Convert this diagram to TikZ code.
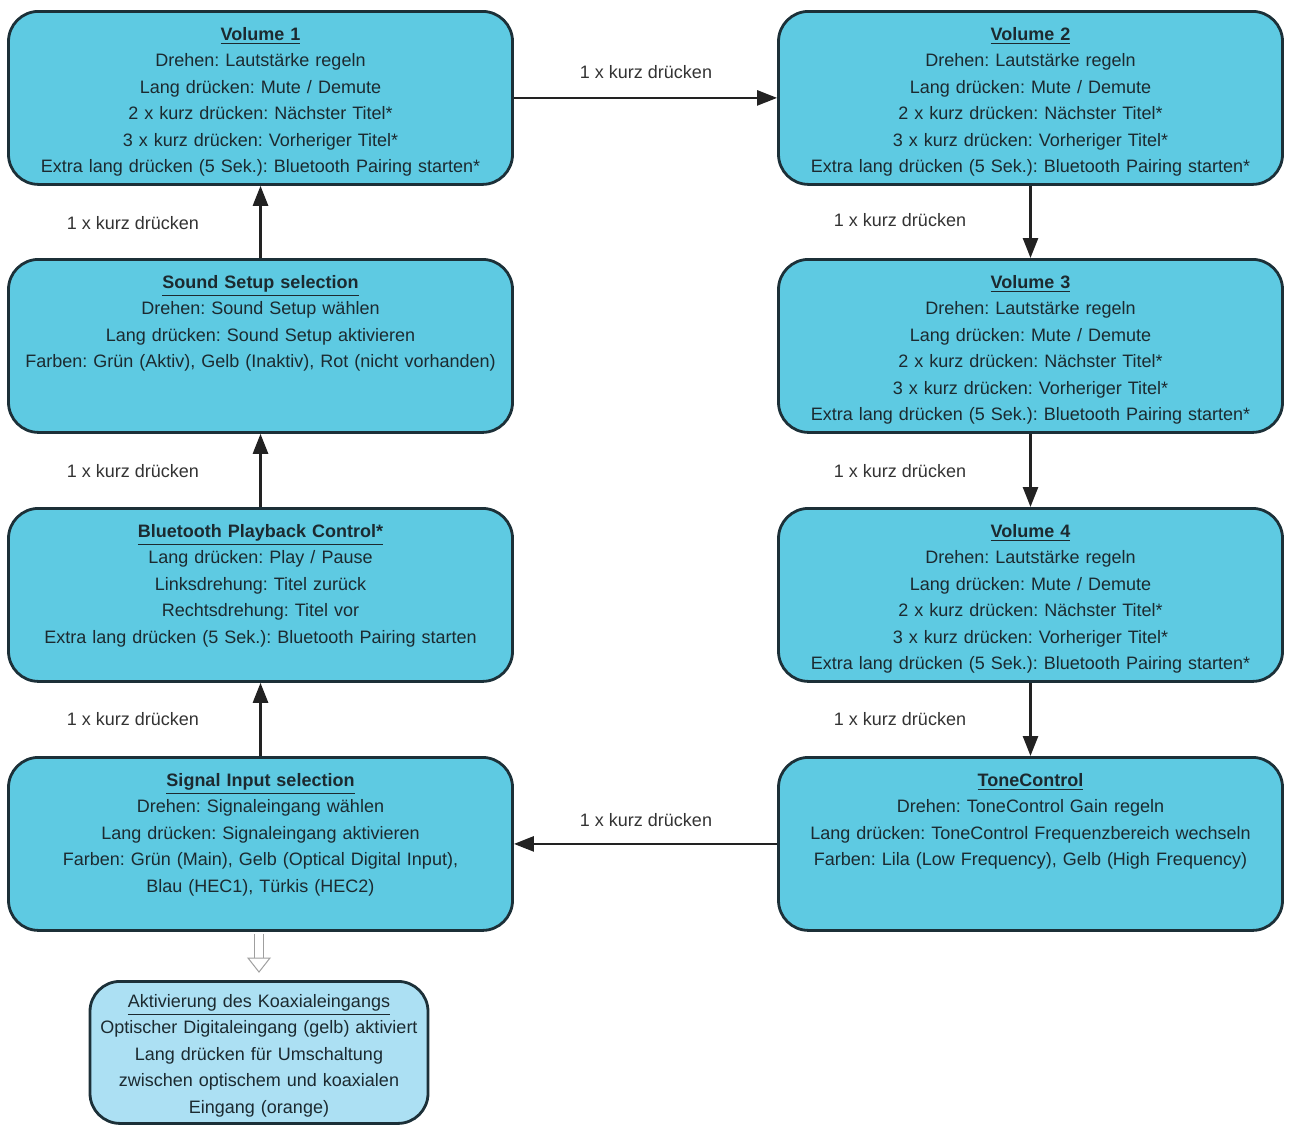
\documentclass[tikz,border=0pt]{standalone}
\usepackage{fontspec}
\setmainfont{Liberation Sans}
\usetikzlibrary{arrows.meta}

\definecolor{boxfill}{RGB}{94,202,226}
\definecolor{boxline}{RGB}{28,48,56}
\definecolor{koaxfill}{RGB}{172,224,243}
\definecolor{boxtext}{RGB}{28,42,48}
\definecolor{arrowgray}{RGB}{34,34,34}

\frenchspacing
\newcommand{\boxtitle}[1]{\underline{\textbf{#1}}}
\newcommand{\voltext}[1]{\boxtitle{Volume #1}\\
	Drehen: Lautstärke regeln\\
	Lang drücken: Mute / Demute\\
	2 x kurz drücken: Nächster Titel*\\
	3 x kurz drücken: Vorheriger Titel*\\
	Extra lang drücken (5 Sek.): Bluetooth Pairing starten*}

\begin{document}
\begin{tikzpicture}[x=0.5pt, y=-0.5pt,
		menubox/.style={draw=boxline, line width=1.4pt, fill=boxfill, rounded corners=15pt, anchor=north,
			text width=246pt, inner xsep=3pt, inner ysep=4pt, text height=10.5pt, text depth=68pt,
			align=center, text=boxtext, font=\fontsize{9}{13.2}\selectfont},
		koaxbox/.style={menubox, fill=koaxfill, text width=169pt, inner xsep=0pt, text height=10pt, text depth=55pt,
			inner ysep=3pt, font=\fontsize{9}{13.25}\selectfont},
		flow/.style={draw=arrowgray, line width=1.3pt, -{Triangle[length=10pt, width=7.5pt]}},
		hollowline/.style={draw=gray!75, line width=0.5pt, double=white, double distance=4pt},
		hollowhead/.style={draw=gray!75, line width=0.5pt, fill=white},
		steplabel/.style={text=black!80, font=\fontsize{9}{11}\selectfont}]

			\useasboundingbox (0,0) rectangle (1289,1126);

			\node[menubox] (vol1) at (260.5, 10) {\voltext{1}};
			\node[menubox] (sound) at (260.5, 258) {\boxtitle{Sound Setup selection}\\
				Drehen: Sound Setup wählen\\
				Lang drücken: Sound Setup aktivieren\\
				Farben: Grün (Aktiv), Gelb (Inaktiv), Rot (nicht vorhanden)};
			\node[menubox] (btctrl) at (260.5, 507) {\boxtitle{Bluetooth Playback Control*}\\
				Lang drücken: Play / Pause\\
				Linksdrehung: Titel zurück\\
				Rechtsdrehung: Titel vor\\
				Extra lang drücken (5 Sek.): Bluetooth Pairing starten};
			\node[menubox] (sigin) at (260.5, 756) {\boxtitle{Signal Input selection}\\
				Drehen: Signaleingang wählen\\
				Lang drücken: Signaleingang aktivieren\\
				Farben: Grün (Main), Gelb (Optical Digital Input),\\
				Blau (HEC1), Türkis (HEC2)};

			\node[menubox] (vol2) at (1030.5, 10) {\voltext{2}};
			\node[menubox] (vol3) at (1030.5, 258) {\voltext{3}};
			\node[menubox] (vol4) at (1030.5, 507) {\voltext{4}};
			\node[menubox] (tone) at (1030.5, 756) {\boxtitle{ToneControl}\\
				Drehen: ToneControl Gain regeln\\
				Lang drücken: ToneControl Frequenzbereich wechseln\\
				Farben: Lila (Low Frequency), Gelb (High Frequency)};

			\node[koaxbox] (koax) at (259, 980) {\underline{Aktivierung des Koaxialeingangs}\\
				Optischer Digitaleingang (gelb) aktiviert\\
				Lang drücken für Umschaltung\\
				zwischen optischem und koaxialen\\
				Eingang (orange)};

			\draw[flow] (vol1) -- (vol2);
			\draw[flow] (vol2) -- (vol3);
			\draw[flow] (vol3) -- (vol4);
			\draw[flow] (vol4) -- (tone);
			\draw[flow] (tone) -- (sigin);
			\draw[flow] (sigin) -- (btctrl);
			\draw[flow] (btctrl) -- (sound);
			\draw[flow] (sound) -- (vol1);

			\node[steplabel] (lbltop) at (646, 72) {1 x kurz drücken};
			\node[steplabel] (lblbot) at (646, 820) {1 x kurz drücken};
			\node[steplabel] (lblr1) at (900, 220) {1 x kurz drücken};
			\node[steplabel] (lblr2) at (900, 471) {1 x kurz drücken};
			\node[steplabel] (lblr3) at (900, 719) {1 x kurz drücken};
			\node[steplabel] (lbll1) at (133, 223) {1 x kurz drücken};
			\node[steplabel] (lbll2) at (133, 471) {1 x kurz drücken};
			\node[steplabel] (lbll3) at (133, 719) {1 x kurz drücken};

			\draw[hollowline] ([yshift=-1pt]sigin.south -| koax.north) -- ([yshift=11pt]koax.north);
			\draw[hollowhead] ([yshift=4pt]koax.north) -- ++(-11,-14) -- ++(22,0) -- cycle;
		\end{tikzpicture}
\end{document}
